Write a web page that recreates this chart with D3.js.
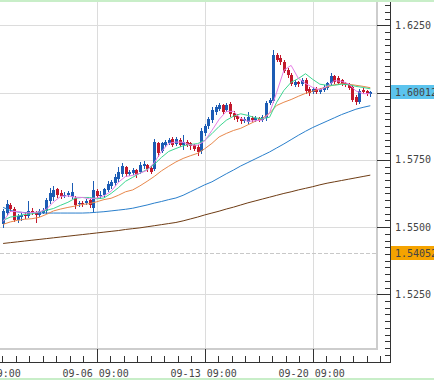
<!DOCTYPE html>
<html>
<head>
<meta charset="utf-8">
<script src="https://cdnjs.cloudflare.com/ajax/libs/d3/7.8.5/d3.min.js"></script>
<style>
body { margin: 0; background: #fff; }
svg { display: block; }
</style>
</head>
<body>
<svg></svg>
<script>
// H4 candles, index 0..102
var opens = [
  1.5510, 1.5551, 1.5581, 1.5566, 1.5528, 1.5536, 1.5543, 1.5540, 1.5558, 1.5551,
  1.5543, 1.5554, 1.5558, 1.5595, 1.5610, 1.5640, 1.5625, 1.5614, 1.5618, 1.5610,
  1.5607, 1.5584, 1.5588, 1.5588, 1.5599, 1.5569, 1.5633, 1.5614, 1.5618, 1.5636,
  1.5651, 1.5662, 1.5677, 1.5696, 1.5722, 1.5696, 1.5700, 1.5711, 1.5703, 1.5726,
  1.5729, 1.5718, 1.5714, 1.5811, 1.5781, 1.5804, 1.5811, 1.5826, 1.5807, 1.5822,
  1.5804, 1.5818, 1.5811, 1.5804, 1.5796, 1.5781, 1.5848, 1.5874, 1.5897, 1.5926,
  1.5938, 1.5952, 1.5934, 1.5956, 1.5923, 1.5912, 1.5900, 1.5893, 1.5889, 1.5904,
  1.5897, 1.5904, 1.5897, 1.5904, 1.5960, 1.5967, 1.6138, 1.6127, 1.6112, 1.6083,
  1.6064, 1.6027, 1.6038, 1.6031, 1.6045, 1.6012, 1.6001, 1.6012, 1.6001, 1.6008,
  1.6016, 1.6034, 1.6060, 1.6053, 1.6045, 1.6034, 1.6031, 1.6019, 1.5982, 1.5964,
  1.6008, 1.6005, 1.5993
];
var highs = [
  1.5566, 1.5599, 1.5588, 1.5573, 1.5547, 1.5551, 1.5551, 1.5595, 1.5569, 1.5558,
  1.5566, 1.5569, 1.5607, 1.5644, 1.5651, 1.5644, 1.5636, 1.5629, 1.5633, 1.5662,
  1.5614, 1.5595, 1.5595, 1.5603, 1.5603, 1.5670, 1.5640, 1.5633, 1.5647, 1.5670,
  1.5674, 1.5696, 1.5722, 1.5737, 1.5726, 1.5711, 1.5718, 1.5714, 1.5740, 1.5744,
  1.5733, 1.5726, 1.5826, 1.5818, 1.5818, 1.5822, 1.5830, 1.5833, 1.5833, 1.5830,
  1.5841, 1.5822, 1.5818, 1.5807, 1.5804, 1.5867, 1.5882, 1.5908, 1.5945, 1.5952,
  1.5960, 1.5956, 1.5960, 1.5964, 1.5930, 1.5919, 1.5908, 1.5908, 1.5926, 1.5912,
  1.5912, 1.5908, 1.5915, 1.5967, 1.5979, 1.6157, 1.6146, 1.6138, 1.6120, 1.6090,
  1.6071, 1.6045, 1.6042, 1.6053, 1.6053, 1.6019, 1.6019, 1.6019, 1.6016, 1.6027,
  1.6038, 1.6071, 1.6064, 1.6060, 1.6049, 1.6038, 1.6034, 1.6027, 1.5990, 1.6012,
  1.6016, 1.6008, 1.6005
];
var lows = [
  1.5502, 1.5543, 1.5558, 1.5521, 1.5517, 1.5528, 1.5532, 1.5536, 1.5547, 1.5517,
  1.5540, 1.5551, 1.5554, 1.5588, 1.5599, 1.5610, 1.5607, 1.5610, 1.5614, 1.5607,
  1.5569, 1.5577, 1.5577, 1.5584, 1.5573, 1.5558, 1.5610, 1.5607, 1.5610, 1.5633,
  1.5644, 1.5655, 1.5670, 1.5688, 1.5688, 1.5692, 1.5696, 1.5685, 1.5700, 1.5718,
  1.5707, 1.5700, 1.5711, 1.5763, 1.5778, 1.5800, 1.5807, 1.5800, 1.5804, 1.5800,
  1.5792, 1.5800, 1.5792, 1.5785, 1.5766, 1.5774, 1.5841, 1.5867, 1.5889, 1.5919,
  1.5934, 1.5923, 1.5930, 1.5912, 1.5900, 1.5893, 1.5885, 1.5889, 1.5885, 1.5893,
  1.5893, 1.5893, 1.5893, 1.5897, 1.5956, 1.5964, 1.6116, 1.6105, 1.6075, 1.6057,
  1.6027, 1.6023, 1.6023, 1.6027, 1.5997, 1.5990, 1.5997, 1.5997, 1.5997, 1.6005,
  1.6012, 1.6031, 1.6034, 1.6031, 1.6027, 1.6023, 1.6012, 1.5967, 1.5956, 1.5960,
  1.5997, 1.5990, 1.5986
];
var closes = [
  1.5558, 1.5584, 1.5566, 1.5528, 1.5540, 1.5543, 1.5540, 1.5558, 1.5551, 1.5543,
  1.5558, 1.5562, 1.5599, 1.5625, 1.5636, 1.5618, 1.5614, 1.5621, 1.5625, 1.5629,
  1.5581, 1.5588, 1.5584, 1.5595, 1.5581, 1.5636, 1.5614, 1.5621, 1.5640, 1.5659,
  1.5666, 1.5685, 1.5703, 1.5726, 1.5696, 1.5703, 1.5711, 1.5692, 1.5729, 1.5733,
  1.5714, 1.5703, 1.5818, 1.5774, 1.5811, 1.5815, 1.5822, 1.5804, 1.5826, 1.5804,
  1.5818, 1.5804, 1.5800, 1.5789, 1.5778, 1.5856, 1.5874, 1.5900, 1.5934, 1.5945,
  1.5952, 1.5926, 1.5952, 1.5919, 1.5908, 1.5900, 1.5893, 1.5900, 1.5908, 1.5897,
  1.5904, 1.5897, 1.5908, 1.5960, 1.5971, 1.6138, 1.6120, 1.6112, 1.6079, 1.6064,
  1.6031, 1.6038, 1.6031, 1.6045, 1.6005, 1.5997, 1.6012, 1.6001, 1.6012, 1.6019,
  1.6034, 1.6060, 1.6038, 1.6034, 1.6031, 1.6027, 1.6016, 1.5971, 1.5964, 1.6005,
  1.6001, 1.5993, 1.60012
];

// moving averages, one value every maStep candles (0, 2, 4 ... 102)
var maStep = 2;
var maPink = [
  1.5521, 1.5558, 1.5558, 1.5552, 1.5554, 1.5556, 1.5566, 1.5593, 1.5614, 1.5616,
  1.5611, 1.5610, 1.5605, 1.5608, 1.5616, 1.5633, 1.5666, 1.5688, 1.5692, 1.5700,
  1.5711, 1.5740, 1.5781, 1.5811, 1.5816, 1.5815, 1.5805, 1.5804, 1.5820, 1.5859,
  1.5900, 1.5930, 1.5930, 1.5904, 1.5893, 1.5895, 1.5898, 1.5923, 1.6001, 1.6083,
  1.6101, 1.6053, 1.6034, 1.6019, 1.6010, 1.6023, 1.6044, 1.6042, 1.6032, 1.6006,
  1.5996, 1.5996
];
var maGreen = [
  1.5525, 1.5537, 1.5541, 1.5547, 1.5549, 1.5556, 1.5562, 1.5569, 1.5581, 1.5592,
  1.5607, 1.5610, 1.5610, 1.5605, 1.5608, 1.5625, 1.5646, 1.5670, 1.5685, 1.5700,
  1.5714, 1.5733, 1.5759, 1.5781, 1.5792, 1.5802, 1.5807, 1.5810, 1.5822, 1.5847,
  1.5874, 1.5897, 1.5912, 1.5921, 1.5915, 1.5906, 1.5903, 1.5908, 1.5964, 1.6008,
  1.6038, 1.6052, 1.6070, 1.6049, 1.6031, 1.6027, 1.6027, 1.6031, 1.6029, 1.6023,
  1.6019, 1.6014
];
var maOrange = [
  1.5510, 1.5519, 1.5525, 1.5529, 1.5531, 1.5536, 1.5547, 1.5560, 1.5567, 1.5573,
  1.5578, 1.5584, 1.5587, 1.5594, 1.5602, 1.5607, 1.5618, 1.5631, 1.5638, 1.5653,
  1.5670, 1.5688, 1.5709, 1.5726, 1.5742, 1.5755, 1.5765, 1.5774, 1.5791, 1.5811,
  1.5835, 1.5848, 1.5859, 1.5867, 1.5880, 1.5893, 1.5904, 1.5923, 1.5952, 1.5964,
  1.5974, 1.5986, 1.5997, 1.6005, 1.6014, 1.6021, 1.6029, 1.6033, 1.6031, 1.6027,
  1.6023, 1.6018
];
var maBlue = [
  1.5573, 1.5562, 1.5556, 1.5554, 1.5553, 1.5552, 1.5552, 1.5552, 1.5552, 1.5552,
  1.5552, 1.5552, 1.5553, 1.5555, 1.5557, 1.5560, 1.5563, 1.5566, 1.5570, 1.5576,
  1.5582, 1.5589, 1.5595, 1.5602, 1.5608, 1.5618, 1.5631, 1.5644, 1.5657, 1.5668,
  1.5683, 1.5698, 1.5712, 1.5727, 1.5740, 1.5753, 1.5766, 1.5779, 1.5794, 1.5809,
  1.5825, 1.5841, 1.5856, 1.5870, 1.5882, 1.5894, 1.5906, 1.5918, 1.5928, 1.5938,
  1.5945, 1.5951
];
var maBrown = [
  1.5439, 1.5442, 1.5445, 1.5448, 1.5451, 1.5454, 1.5457, 1.5460, 1.5463, 1.5466,
  1.5469, 1.5472, 1.5475, 1.5478, 1.5481, 1.5484, 1.5487, 1.5491, 1.5494, 1.5497,
  1.5501, 1.5505, 1.5509, 1.5513, 1.5517, 1.5523, 1.5530, 1.5537, 1.5545, 1.5552,
  1.5559, 1.5567, 1.5574, 1.5582, 1.5590, 1.5597, 1.5604, 1.5611, 1.5618, 1.5625,
  1.5631, 1.5638, 1.5644, 1.5650, 1.5657, 1.5663, 1.5668, 1.5673, 1.5678, 1.5683,
  1.5688, 1.5693
];

var priceTicks = [1.525, 1.55, 1.575, 1.6, 1.625];
var timeTickIdx = [-4, 26, 56, 86];
var timeTickLabels = ["08-30 09:00", "09-06 09:00", "09-13 09:00", "09-20 09:00"];
var bidPrice = 1.60012;
var askLine = 1.54052;

var width = 434, height = 380;
var plotRight = 376, plotBottom = 349;
var axisX = 390, axisY = 362;
var upColor = "#1c5cb4", downColor = "#c2182c";
var fontFam = "'DejaVu Sans Mono', monospace";

var x = d3.scaleLinear().domain([26, 86]).range([96.7, 312.7]);
var y = d3.scaleLinear().domain([1.525, 1.625]).range([294.3, 25.3]);

function crisp(v) { return Math.round(v) + 0.5; }

var svg = d3.select("svg").attr("width", width).attr("height", height);

//green strips top and bottom
svg.append("rect").attr("x", 0).attr("y", 0).attr("width", width).attr("height", 2).attr("fill", "#c8eec8");
svg.append("rect").attr("x", 0).attr("y", 378).attr("width", width).attr("height", 2).attr("fill", "#c8eec8");

svg.append("clipPath").attr("id", "plotclip")
  .append("rect").attr("x", 0).attr("y", 2).attr("width", plotRight).attr("height", plotBottom - 2);

//grid
var grid = svg.append("g").attr("stroke", "#dcdcdc").attr("stroke-width", 1);
priceTicks.forEach(function(p) {
  grid.append("line").attr("x1", 0).attr("x2", plotRight)
    .attr("y1", crisp(y(p))).attr("y2", crisp(y(p)));
});
timeTickIdx.forEach(function(t) {
  grid.append("line").attr("x1", crisp(x(t))).attr("x2", crisp(x(t)))
    .attr("y1", 2).attr("y2", plotBottom);
});

//ask line (dashed)
svg.append("line").attr("x1", 0).attr("x2", plotRight)
  .attr("y1", crisp(y(askLine))).attr("y2", crisp(y(askLine)))
  .attr("stroke", "#c8c8c8").attr("stroke-dasharray", "4,2");

var plot = svg.append("g").attr("clip-path", "url(#plotclip)");

//candles
var idx = d3.range(opens.length);
var candles = plot.selectAll("g.candle").data(idx).enter().append("g").attr("class", "candle");
candles.append("line")
  .attr("x1", function(i) { return crisp(x(i)); })
  .attr("x2", function(i) { return crisp(x(i)); })
  .attr("y1", function(i) { return Math.round(y(highs[i])); })
  .attr("y2", function(i) { return Math.round(y(lows[i])) + 1; })
  .attr("stroke", function(i) { return closes[i] >= opens[i] ? upColor : downColor; });
candles.append("rect")
  .attr("x", function(i) { return Math.round(x(i)) - 1; })
  .attr("width", 3)
  .attr("y", function(i) { return Math.round(y(Math.max(opens[i], closes[i]))); })
  .attr("height", function(i) {
    return Math.max(1, Math.round(y(Math.min(opens[i], closes[i]))) - Math.round(y(Math.max(opens[i], closes[i]))));
  })
  .attr("fill", function(i) { return closes[i] >= opens[i] ? upColor : downColor; });

//moving average lines
var maLine = d3.line()
  .x(function(d, k) { return x(k * maStep); })
  .y(function(d) { return y(d); });
var maList = [
  [maBrown, "#6e3c14"],
  [maBlue, "#2a7fcc"],
  [maOrange, "#e8884c"],
  [maGreen, "#3cd690"],
  [maPink, "#e67ee6"]
];
maList.forEach(function(m) {
  plot.append("path").attr("d", maLine(m[0]))
    .attr("fill", "none").attr("stroke", m[1]).attr("stroke-width", 1);
});

//plot frame (right and bottom)
svg.append("rect").attr("x", plotRight).attr("y", 2).attr("width", 2).attr("height", plotBottom - 2).attr("fill", "#cdcdcd");
svg.append("rect").attr("x", 0).attr("y", plotBottom - 1).attr("width", plotRight + 2).attr("height", 2).attr("fill", "#cdcdcd");

//axes
var ax = svg.append("g").attr("stroke", "#333").attr("stroke-width", 1);
ax.append("line").attr("x1", axisX + 0.5).attr("x2", axisX + 0.5).attr("y1", 2).attr("y2", axisY + 1);
ax.append("line").attr("x1", 0).attr("x2", axisX + 1).attr("y1", axisY + 0.5).attr("y2", axisY + 0.5);

//price minor ticks every 0.0025
d3.range(0, 54).forEach(function(k) {
  var p = 1.5 + k * 0.0025;
  var py = y(p);
  if (py < 3 || py > axisY - 2) return;
  var major = k % 10 === 0;
  ax.append("line").attr("x1", major ? plotRight + 1 : axisX - 5).attr("x2", axisX)
    .attr("y1", crisp(py)).attr("y2", crisp(py));
});

//time ticks
d3.range(-4, 108, 3.75).forEach(function(t) {
  var tx = x(t);
  if (tx < 0 || tx > axisX - 2) return;
  var major = timeTickIdx.indexOf(t) >= 0;
  ax.append("line").attr("x1", crisp(tx)).attr("x2", crisp(tx))
    .attr("y1", major ? plotBottom : axisY - 6).attr("y2", axisY);
});

//current price boxes sit under the labels
var boxes = svg.append("g");
var labels = svg.append("g").attr("font-family", fontFam).attr("font-size", 10).attr("fill", "#444");

function priceBox(p, fill) {
  var py = Math.round(y(p));
  boxes.append("rect").attr("x", axisX + 1).attr("y", py - 7).attr("width", width - axisX - 1).attr("height", 14).attr("fill", fill);
  labels.append("text").attr("x", 395).attr("y", py + 3.6).text(d3.format(".5f")(p));
}
priceBox(bidPrice, "#5cc4ee");
priceBox(askLine, "#f5a300");

//price labels hidden where a price box covers them
priceTicks.forEach(function(p) {
  var py = y(p);
  if (Math.abs(py - y(bidPrice)) < 12 || Math.abs(py - y(askLine)) < 12) return;
  labels.append("text").attr("x", 395).attr("y", py + 3.6).text(d3.format(".4f")(p));
});
timeTickIdx.forEach(function(t, k) {
  labels.append("text").attr("x", x(t) - 1).attr("y", 376.6)
    .attr("text-anchor", "middle").text(timeTickLabels[k]);
});
</script>
</body>
</html>
